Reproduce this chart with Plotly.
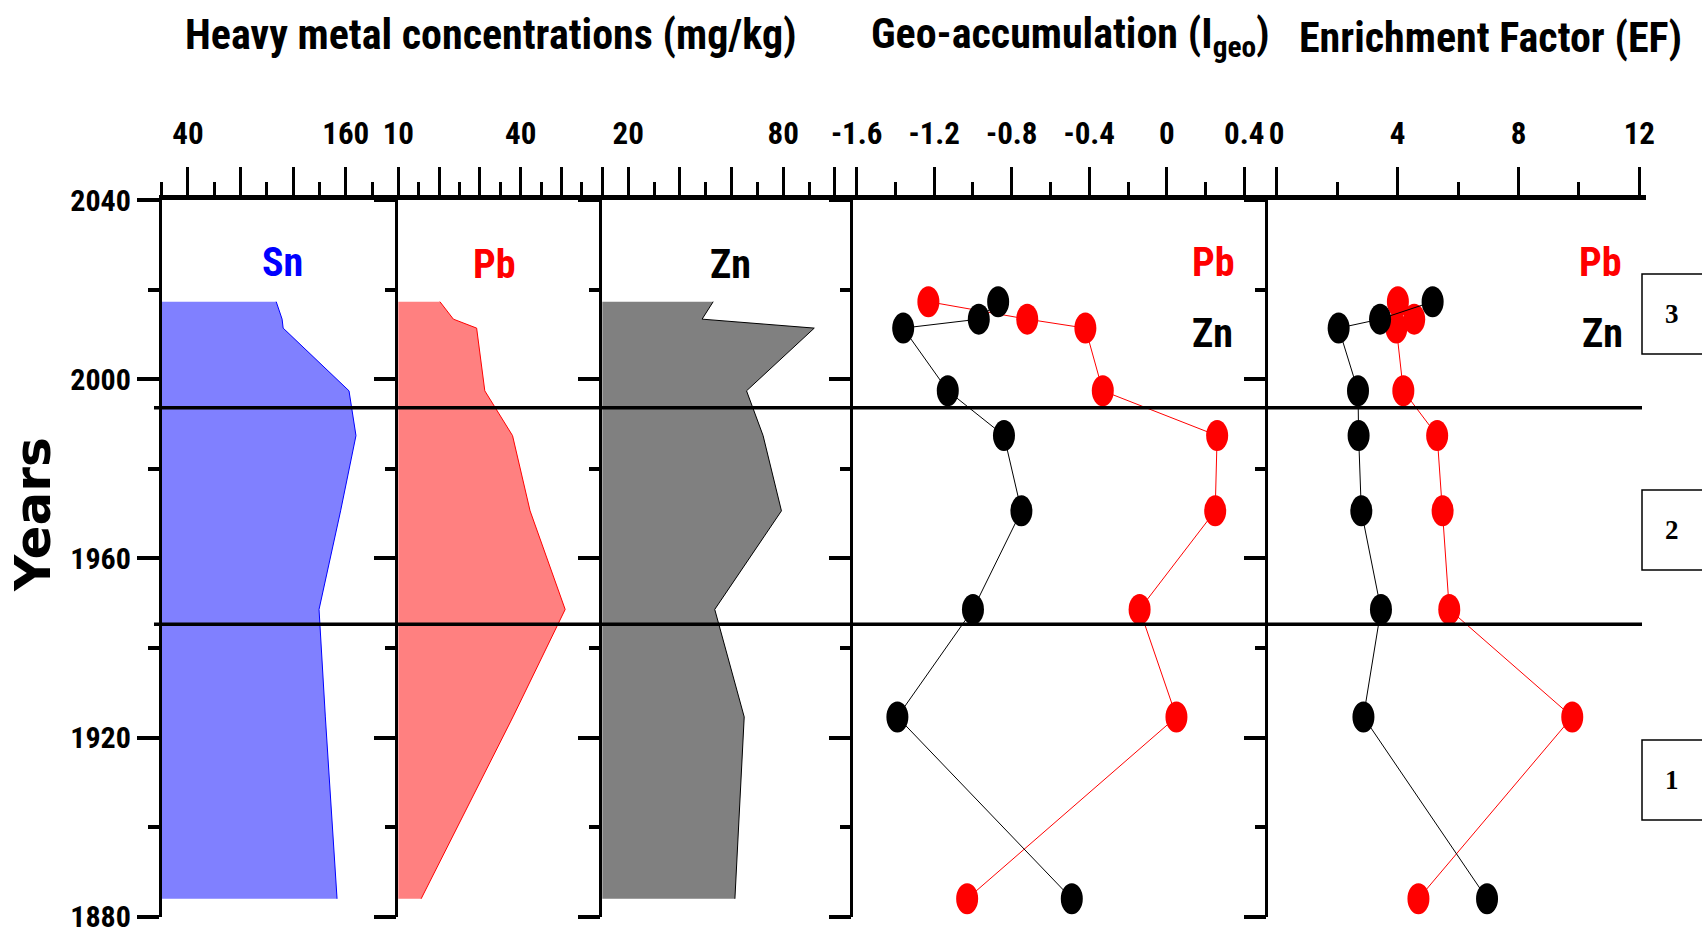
import plotly.graph_objects as go

W, H = 1702, 934

# ---- sample ages (years AD) ----
years = [2017.3, 2013.4, 2011.4, 1997.4, 1987.4, 1970.6, 1948.6, 1924.6, 1884.0]

# ---- heavy metal concentrations (mg/kg) ----
sn_conc = [107.1, 111.6, 112.4, 162.5, 167.8, 156.1, 139.7, 144.5, 153.4]
pb_conc = [20.2, 23.5, 29.2, 31.2, 38.0, 42.3, 50.9, 38.1, 15.6]
zn_conc = [52.9, 48.6, 92.0, 65.8, 72.2, 79.3, 53.5, 64.9, 61.3]

# ---- geo-accumulation index ----
pb_igeo = [-1.23, -0.72, -0.42, -0.33, 0.26, 0.25, -0.14, 0.05, -1.03]
zn_igeo = [-0.87, -0.97, -1.36, -1.13, -0.84, -0.75, -1.00, -1.39, -0.49]

# ---- enrichment factor ----
pb_ef = [4.01, 4.55, 3.96, 4.19, 5.31, 5.49, 5.71, 9.78, 4.69]
zn_ef = [5.16, 3.42, 2.05, 2.69, 2.71, 2.80, 3.45, 2.87, 6.96]

# ---- zone boundaries (years) and zone names ----
zone_bounds = [1993.6, 1945.3]
zone_names = ["3", "2", "1"]

# ---- axis ticks ----
year_ticks = [1880, 1920, 1960, 2000, 2040]
year_minor = [1900, 1940, 1980, 2020]

sn_ticks = [40, 80, 120, 160, 200]
sn_tick_text = ["40", "", "", "160", ""]
sn_minor = [20, 60, 100, 140, 180]

pb_ticks = [10, 20, 30, 40, 50, 60]
pb_tick_text = ["10", "", "", "40", "", ""]
pb_minor = [15, 25, 35, 45, 55]

zn_ticks = [20, 40, 60, 80, 100]
zn_tick_text = ["20", "", "", "80", ""]
zn_minor = [30, 50, 70, 90]

igeo_ticks = [-1.6, -1.2, -0.8, -0.4, 0, 0.4]
igeo_tick_text = ["-1.6", "-1.2", "-0.8", "-0.4", "0", "0.4"]
igeo_minor = [-1.4, -1.0, -0.6, -0.2, 0.2]

ef_ticks = [0, 4, 8, 12]
ef_tick_text = ["0", "4", "8", "12"]
ef_minor = [2, 6, 10]

NARROW = "Liberation Sans Narrow, Arial Narrow, Roboto Condensed, DejaVu Sans Condensed, sans-serif"
SERIF = "Liberation Serif, Times New Roman, serif"

BLUE, RED, BLACK = "#0000FF", "#FF0000", "#000000"


def fx(px):
    return px / W


def fy(py):
    return 1 - py / H


# panel frames (pixel extents) and axis ranges
panels = [
    dict(x0=161.7, x1=398.3, rng=[20, 200], ticks=sn_ticks, text=sn_tick_text, minor=sn_minor),
    dict(x0=398.3, x1=602.3, rng=[10, 60], ticks=pb_ticks, text=pb_tick_text, minor=pb_minor),
    dict(x0=602.3, x1=853.3, rng=[10, 107.1], ticks=zn_ticks, text=zn_tick_text, minor=zn_minor),
    dict(x0=853.3, x1=1268.3, rng=[-1.6175, 0.524], ticks=igeo_ticks, text=igeo_tick_text, minor=igeo_minor),
    dict(x0=1268.3, x1=1646, rng=[-0.278, 12.22], ticks=ef_ticks, text=ef_tick_text, minor=ef_minor),
]
Y_TOP, Y_BOT = 200, 916.7

fig = go.Figure()

# concentration profiles
profiles = [(sn_conc, "#8080FF", BLUE), (pb_conc, "#FF8080", RED), (zn_conc, "#808080", BLACK)]
for i, (vals, fillc, linec) in enumerate(profiles, start=1):
    fig.add_trace(go.Scatter(
        x=vals, y=years, xaxis=f"x{i}", yaxis=f"y{i}", mode="lines",
        fill="tozerox", fillcolor=fillc, line=dict(color=linec, width=1),
        hoverinfo="x+y"))

# index profiles: connecting lines
for i, (pb_vals, zn_vals) in enumerate([(pb_igeo, zn_igeo), (pb_ef, zn_ef)], start=4):
    for vals, col in [(pb_vals, RED), (zn_vals, BLACK)]:
        fig.add_trace(go.Scatter(
            x=vals, y=years, xaxis=f"x{i}", yaxis=f"y{i}", mode="lines",
            line=dict(color=col, width=1), hoverinfo="x+y"))

shapes = []
# oval sample markers anchored at data positions
for i, (pb_vals, zn_vals) in enumerate([(pb_igeo, zn_igeo), (pb_ef, zn_ef)], start=4):
    for vals, col, layer in [(pb_vals, RED, "below"), (zn_vals, BLACK, "above")]:
        for v, yr in zip(vals, years):
            shapes.append(dict(
                type="circle", xref=f"x{i}", yref=f"y{i}",
                xsizemode="pixel", ysizemode="pixel", xanchor=v, yanchor=yr,
                x0=-11, x1=11, y0=-15.5, y1=15.5,
                fillcolor=col, line=dict(width=0), layer=layer))

# zone boundary lines
for b in zone_bounds:
    shapes.append(dict(type="line", xref="paper", yref="y", x0=fx(154), x1=fx(1642),
                       y0=b, y1=b, line=dict(color=BLACK, width=3.5), layer="above"))

# zone boxes
box_rows = [(274, 354), (490, 570), (740, 820)]
for (t, b) in box_rows:
    shapes.append(dict(type="rect", xref="paper", yref="paper", x0=fx(1642), x1=fx(1710),
                       y0=fy(b), y1=fy(t), line=dict(color=BLACK, width=1.5),
                       fillcolor="rgba(0,0,0,0)", layer="above"))

layout = dict(
    width=W, height=H, margin=dict(l=0, r=0, t=0, b=0, autoexpand=False),
    paper_bgcolor="white", plot_bgcolor="white", showlegend=False,
    shapes=shapes,
)

for i, p in enumerate(panels, start=1):
    layout[f"xaxis{i}"] = dict(
        domain=[fx(p["x0"]), fx(p["x1"])], range=p["rng"], side="top",
        anchor=f"y{i}", showline=True, linewidth=5, linecolor=BLACK,
        showgrid=False, zeroline=False, automargin=False,
        ticklabeloverflow="allow", ticklabelstandoff=11,
        tickmode="array", tickvals=p["ticks"], ticktext=p["text"],
        ticks="outside", ticklen=28, tickwidth=3, tickcolor=BLACK,
        minor=dict(tickmode="array", tickvals=p["minor"], ticks="outside",
                   ticklen=13, tickwidth=3, tickcolor=BLACK, showgrid=False),
        tickfont=dict(family=NARROW, size=31, color=BLACK, weight="bold"),
        fixedrange=True,
    )
    layout[f"yaxis{i}"] = dict(
        domain=[fy(Y_BOT), fy(Y_TOP)], range=[1880, 2040], anchor=f"x{i}",
        side="left", showline=True, linewidth=2.5, linecolor=BLACK,
        showgrid=False, zeroline=False, automargin=False,
        ticklabeloverflow="allow",
        tickmode="array", tickvals=year_ticks,
        ticktext=[str(t) for t in year_ticks],
        ticks="outside", ticklen=22, tickwidth=4, tickcolor=BLACK,
        minor=dict(tickmode="array", tickvals=year_minor, ticks="outside",
                   ticklen=11, tickwidth=4, tickcolor=BLACK, showgrid=False),
        showticklabels=(i == 1),
        tickfont=dict(family=NARROW, size=30, color=BLACK, weight="bold"),
        fixedrange=True,
    )


def note(text, x, y, size, color=BLACK, family=NARROW, angle=0):
    return dict(text=text, x=fx(x), y=fy(y), xref="paper", yref="paper",
                showarrow=False, xanchor="center", yanchor="middle", textangle=angle,
                font=dict(family=family, size=size, color=color, weight="bold"))


annotations = [
    note("Heavy metal concentrations (mg/kg)", 491, 35, 42),
    note("Geo-accumulation (I<sub>geo</sub>)", 1070, 37, 42),
    note("Enrichment Factor (EF)", 1490, 38, 42),
    note("Years", 33, 515, 50, family="DejaVu Sans, sans-serif", angle=-90),
    note("Sn", 282, 262, 40, BLUE),
    note("Pb", 494, 265, 40, RED),
    note("Zn", 730, 265, 40, BLACK),
    note("Pb", 1213, 262, 40, RED),
    note("Zn", 1212, 333, 40, BLACK),
    note("Pb", 1600, 262, 40, RED),
    note("Zn", 1602, 333, 40, BLACK),
]
for name, (t, b) in zip(zone_names, box_rows):
    annotations.append(note(name, 1672, (t + b) / 2, 27, family=SERIF))
layout["annotations"] = annotations

fig.update_layout(**layout)
fig.write_html("out.html")
